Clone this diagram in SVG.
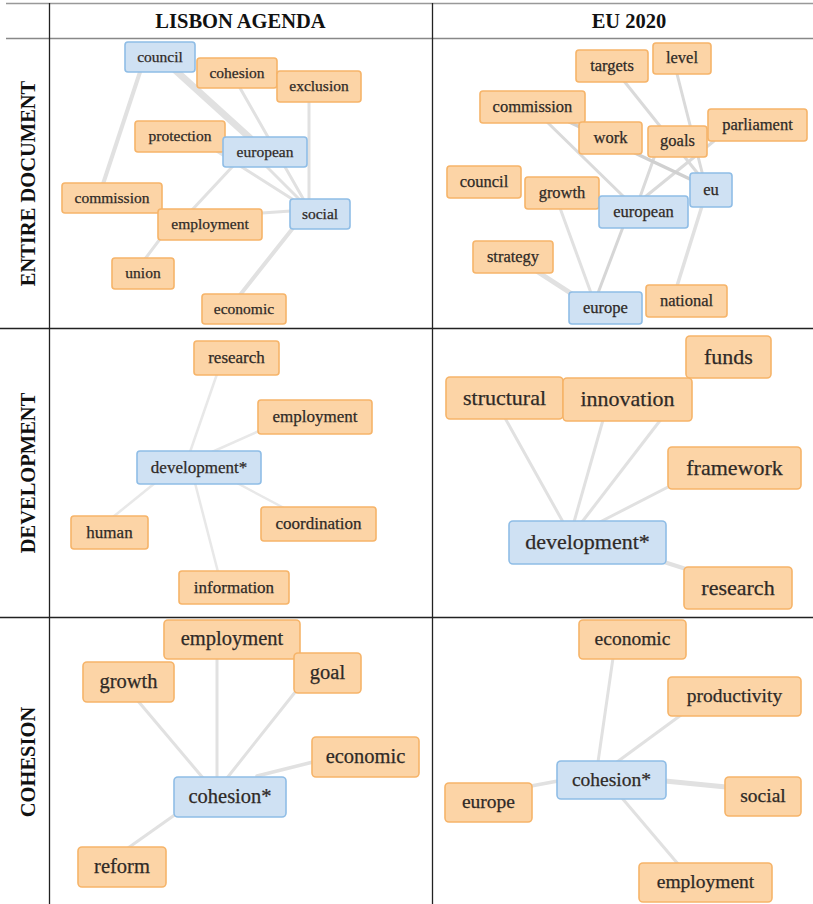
<svg xmlns="http://www.w3.org/2000/svg" width="813" height="904" viewBox="0 0 813 904">
<style>
.o{fill:#fcd4a6;stroke:#f6b469;stroke-width:1.6}
.b{fill:#cfe1f3;stroke:#8fbde6;stroke-width:1.6}
text{font-family:"Liberation Serif","DejaVu Serif",serif;fill:#2f2a27;text-anchor:middle}
g[id^="p"] text{stroke:#2f2a27;stroke-width:0.25}
.s1{font-size:15.5px}.s2{font-size:16.5px}.s3{font-size:17px}.s4{font-size:22px}.s5{font-size:20.5px}.s6{font-size:19.5px}
.h{font-size:20.5px;font-weight:bold;fill:#111}
.e line{stroke:#e1e1e1;stroke-width:3;stroke-linecap:round}
.grid line{stroke:#222;stroke-width:1.3}
</style>
<rect width="813" height="904" fill="#fff"/>
<g class="grid" id="grid">
<line x1="6" y1="3.5" x2="813" y2="3.5" style="stroke:#999"/>
<line x1="6" y1="38.5" x2="813" y2="38.5" style="stroke:#888"/>
<line x1="49.5" y1="3" x2="49.5" y2="904"/>
<line x1="432.5" y1="3" x2="432.5" y2="904"/>
<line x1="0" y1="328.5" x2="813" y2="328.5"/>
<line x1="0" y1="617.5" x2="813" y2="617.5"/>
</g>
<g id="headers">
<text class="h" x="240.5" y="27.5">LISBON AGENDA</text>
<text class="h" x="629" y="27.5">EU 2020</text>
<text class="h" transform="translate(35,183.5) rotate(-90)">ENTIRE DOCUMENT</text>
<text class="h" transform="translate(35,473) rotate(-90)">DEVELOPMENT</text>
<text class="h" transform="translate(35,762) rotate(-90)">COHESION</text>
</g>
<g class="e" id="connectors">
<line x1="175" y1="70" x2="250" y2="138" style="stroke-width:7"/>
<line x1="250" y1="150" x2="303" y2="203"/>
<line x1="240" y1="88" x2="305" y2="202"/>
<line x1="215" y1="150" x2="300" y2="204"/>
<line x1="309" y1="102" x2="309" y2="200"/>
<line x1="140" y1="72" x2="103" y2="184" style="stroke-width:4"/>
<line x1="233" y1="166" x2="192" y2="210"/>
<line x1="262" y1="213" x2="291" y2="211"/>
<line x1="160" y1="239" x2="145" y2="259"/>
<line x1="293" y1="228" x2="240" y2="295" style="stroke-width:4"/>
<line x1="612" y1="66" x2="711" y2="190" style="stroke:#dadada"/>
<line x1="676" y1="70" x2="703" y2="176" style="stroke:#dadada"/>
<line x1="655" y1="155" x2="640" y2="197" style="stroke:#dadada"/>
<line x1="714" y1="141" x2="645" y2="197" style="stroke:#dadada"/>
<line x1="545" y1="120" x2="624" y2="197" style="stroke:#dadada"/>
<line x1="565" y1="120" x2="692" y2="180" style="stroke:#d0d0d0;stroke-width:3.5"/>
<line x1="702" y1="206" x2="677" y2="286" style="stroke-width:3.5"/>
<line x1="560" y1="208" x2="591" y2="293"/>
<line x1="623" y1="227" x2="598" y2="293" style="stroke:#d6d6d6"/>
<line x1="538" y1="272" x2="572" y2="294" style="stroke-width:5"/>
<line x1="190" y1="452" x2="217" y2="374" style="stroke:#e8e8e8;stroke-width:2.5"/>
<line x1="212" y1="452" x2="259" y2="431" style="stroke:#e8e8e8;stroke-width:2.5"/>
<line x1="155" y1="483" x2="113" y2="517" style="stroke:#e8e8e8;stroke-width:2.5"/>
<line x1="237" y1="483" x2="284" y2="508" style="stroke:#e8e8e8;stroke-width:2.5"/>
<line x1="195" y1="483" x2="218" y2="572" style="stroke:#e8e8e8;stroke-width:2.5"/>
<line x1="563" y1="522" x2="505" y2="418"/>
<line x1="574" y1="522" x2="603" y2="420"/>
<line x1="582" y1="522" x2="662" y2="418"/>
<line x1="600" y1="522" x2="670" y2="486"/>
<line x1="664" y1="562" x2="686" y2="569" style="stroke-width:4"/>
<line x1="203" y1="778" x2="138" y2="701"/>
<line x1="217" y1="778" x2="217" y2="658"/>
<line x1="227" y1="778" x2="296" y2="691"/>
<line x1="257" y1="776" x2="313" y2="762" style="stroke-width:3.5"/>
<line x1="176" y1="814" x2="128" y2="848"/>
<line x1="598" y1="762" x2="613" y2="658"/>
<line x1="617" y1="762" x2="681" y2="715"/>
<line x1="558" y1="781" x2="531" y2="786" style="stroke-width:3.5"/>
<line x1="665" y1="781" x2="726" y2="787" style="stroke-width:5"/>
<line x1="622" y1="798" x2="678" y2="864"/>
</g>
<!-- Panel 1 -->
<g id="p1-council"><rect class="b" x="125" y="42" width="70" height="30" rx="3"/><text class="s1" x="160" y="61.5">council</text></g>
<g id="p1-cohesion"><rect class="o" x="197" y="58" width="80" height="30" rx="3"/><text class="s1" x="237" y="77.5">cohesion</text></g>
<g id="p1-exclusion"><rect class="o" x="277" y="71" width="84" height="31" rx="3"/><text class="s1" x="319" y="91">exclusion</text></g>
<g id="p1-protection"><rect class="o" x="135" y="121" width="90" height="31" rx="3"/><text class="s1" x="180" y="141">protection</text></g>
<g id="p1-european"><rect class="b" x="223" y="137" width="84" height="30" rx="3"/><text class="s1" x="265" y="156.5">european</text></g>
<g id="p1-commission"><rect class="o" x="62" y="183" width="100" height="30" rx="3"/><text class="s1" x="112" y="202.5">commission</text></g>
<g id="p1-employment"><rect class="o" x="158" y="209" width="104" height="31" rx="3"/><text class="s1" x="210" y="228.5">employment</text></g>
<g id="p1-social"><rect class="b" x="290" y="199" width="60" height="30" rx="3"/><text class="s1" x="320" y="218.5">social</text></g>
<g id="p1-union"><rect class="o" x="112" y="258" width="62" height="31" rx="3"/><text class="s1" x="143" y="277.5">union</text></g>
<g id="p1-economic"><rect class="o" x="202" y="294" width="84" height="30" rx="3"/><text class="s1" x="244" y="313.5">economic</text></g>
<!-- Panel 2 -->
<g id="p2-targets"><rect class="o" x="576" y="50" width="72" height="32" rx="3"/><text class="s2" x="612" y="70.5">targets</text></g>
<g id="p2-level"><rect class="o" x="653" y="43" width="58" height="31" rx="3"/><text class="s2" x="682" y="63">level</text></g>
<g id="p2-commission"><rect class="o" x="480" y="91" width="105" height="32" rx="3"/><text class="s2" x="532.5" y="111.5">commission</text></g>
<g id="p2-work"><rect class="o" x="579" y="122" width="63" height="32" rx="3"/><text class="s2" x="610.5" y="142.5">work</text></g>
<g id="p2-goals"><rect class="o" x="648" y="126" width="59" height="31" rx="3"/><text class="s2" x="677.5" y="146">goals</text></g>
<g id="p2-parliament"><rect class="o" x="708" y="109" width="99" height="32" rx="3"/><text class="s2" x="757.5" y="129.5">parliament</text></g>
<g id="p2-council"><rect class="o" x="447" y="166" width="74" height="32" rx="3"/><text class="s2" x="484" y="186.5">council</text></g>
<g id="p2-growth"><rect class="o" x="525" y="177" width="74" height="32" rx="3"/><text class="s2" x="562" y="197.5">growth</text></g>
<g id="p2-european"><rect class="b" x="599" y="196" width="89" height="32" rx="3"/><text class="s2" x="643.5" y="216.5">european</text></g>
<g id="p2-eu"><rect class="b" x="690" y="173" width="42" height="34" rx="3"/><text class="s2" x="711" y="194.5">eu</text></g>
<g id="p2-strategy"><rect class="o" x="473" y="241" width="80" height="32" rx="3"/><text class="s2" x="513" y="261.5">strategy</text></g>
<g id="p2-europe"><rect class="b" x="569" y="292" width="73" height="32" rx="3"/><text class="s2" x="605.5" y="312.5">europe</text></g>
<g id="p2-national"><rect class="o" x="646" y="285" width="81" height="32" rx="3"/><text class="s2" x="686.5" y="305.5">national</text></g>
<!-- Panel 3 -->
<g id="p3-research"><rect class="o" x="194" y="341" width="85" height="34" rx="3"/><text class="s3" x="236.5" y="363">research</text></g>
<g id="p3-employment"><rect class="o" x="258" y="400" width="114" height="34" rx="3"/><text class="s3" x="315" y="422">employment</text></g>
<g id="p3-development"><rect class="b" x="137" y="451" width="124" height="33" rx="3"/><text class="s3" x="199" y="472.5">development*</text></g>
<g id="p3-human"><rect class="o" x="71" y="516" width="77" height="33" rx="3"/><text class="s3" x="109.5" y="537.5">human</text></g>
<g id="p3-coordination"><rect class="o" x="261" y="507" width="115" height="34" rx="3"/><text class="s3" x="318.5" y="529">coordination</text></g>
<g id="p3-information"><rect class="o" x="179" y="571" width="110" height="33" rx="3"/><text class="s3" x="234" y="592.5">information</text></g>
<!-- Panel 4 -->
<g id="p4-funds"><rect class="o" x="686" y="336" width="85" height="42" rx="4"/><text class="s4" x="728.5" y="363.5">funds</text></g>
<g id="p4-structural"><rect class="o" x="446" y="377" width="117" height="42" rx="4"/><text class="s4" x="504.5" y="404.5">structural</text></g>
<g id="p4-innovation"><rect class="o" x="563" y="378" width="129" height="43" rx="4"/><text class="s4" x="627.5" y="405.5">innovation</text></g>
<g id="p4-framework"><rect class="o" x="668" y="447" width="133" height="42" rx="4"/><text class="s4" x="734.5" y="474.5">framework</text></g>
<g id="p4-development"><rect class="b" x="509" y="521" width="157" height="43" rx="4"/><text class="s4" x="587.5" y="549">development*</text></g>
<g id="p4-research"><rect class="o" x="684" y="567" width="108" height="42" rx="4"/><text class="s4" x="738" y="594.5">research</text></g>
<!-- Panel 5 -->
<g id="p5-employment"><rect class="o" x="164" y="620" width="136" height="39" rx="4"/><text class="s5" x="232" y="645">employment</text></g>
<g id="p5-growth"><rect class="o" x="83" y="662" width="91" height="40" rx="4"/><text class="s5" x="128.5" y="688">growth</text></g>
<g id="p5-goal"><rect class="o" x="294" y="653" width="67" height="40" rx="4"/><text class="s5" x="327.5" y="679">goal</text></g>
<g id="p5-economic"><rect class="o" x="312" y="737" width="107" height="40" rx="4"/><text class="s5" x="365.5" y="763">economic</text></g>
<g id="p5-cohesion"><rect class="b" x="174" y="777" width="112" height="40" rx="4"/><text class="s5" x="230" y="803">cohesion*</text></g>
<g id="p5-reform"><rect class="o" x="78" y="847" width="88" height="40" rx="4"/><text class="s5" x="122" y="873">reform</text></g>
<!-- Panel 6 -->
<g id="p6-economic"><rect class="o" x="579" y="620" width="107" height="39" rx="4"/><text class="s6" x="632.5" y="645">economic</text></g>
<g id="p6-productivity"><rect class="o" x="668" y="677" width="133" height="39" rx="4"/><text class="s6" x="734.5" y="702">productivity</text></g>
<g id="p6-cohesion"><rect class="b" x="557" y="761" width="109" height="38" rx="4"/><text class="s6" x="611.5" y="785.5">cohesion*</text></g>
<g id="p6-europe"><rect class="o" x="445" y="783" width="87" height="39" rx="4"/><text class="s6" x="488.5" y="808">europe</text></g>
<g id="p6-social"><rect class="o" x="725" y="777" width="76" height="39" rx="4"/><text class="s6" x="763" y="802">social</text></g>
<g id="p6-employment"><rect class="o" x="639" y="863" width="133" height="39" rx="4"/><text class="s6" x="705.5" y="888">employment</text></g>
</svg>
